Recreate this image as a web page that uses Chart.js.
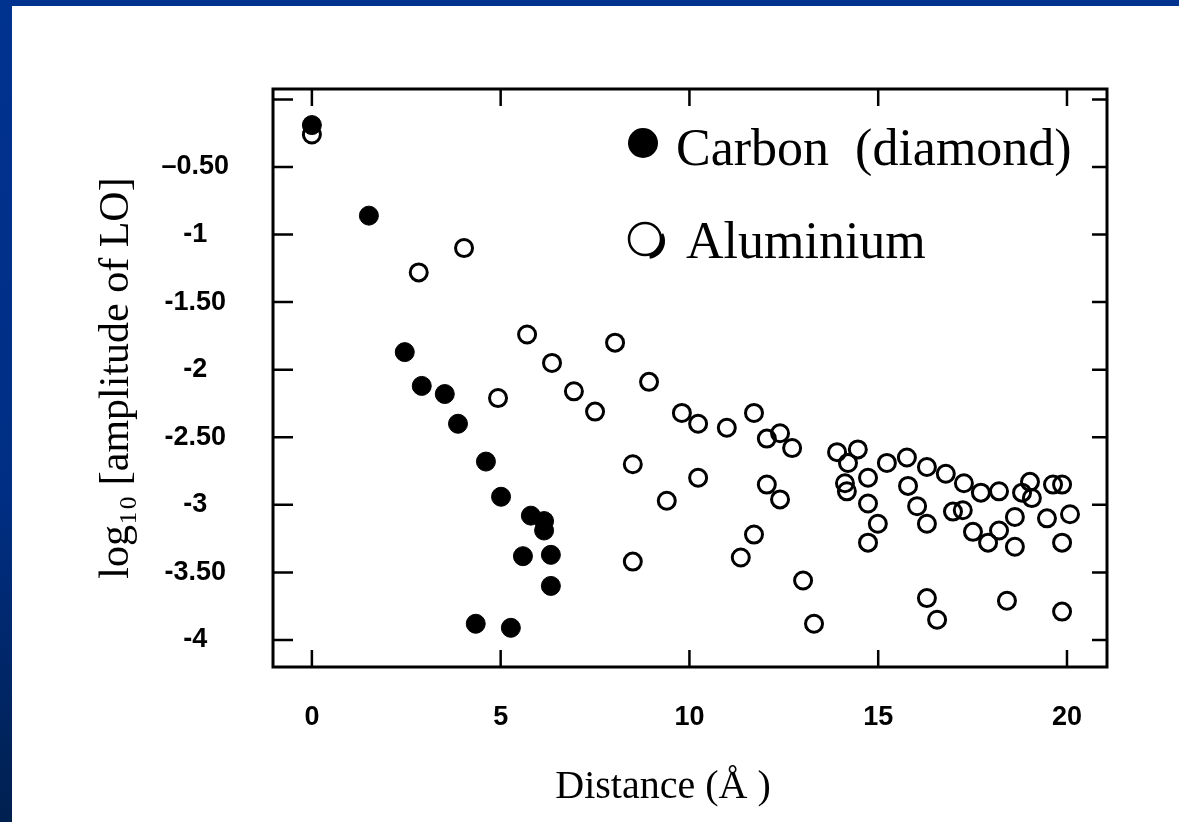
<!DOCTYPE html>
<html>
<head>
<meta charset="utf-8">
<script src="https://cdn.jsdelivr.net/npm/chart.js@4/dist/chart.umd.min.js"></script>
<style>
  html, body { margin: 0; padding: 0; }
  body {
    width: 1179px; height: 822px; overflow: hidden;
    background: linear-gradient(to bottom, #003290 0%, #002e84 60%, #00204f 100%);
  }
  #panel { position: absolute; left: 12px; top: 6px; width: 1167px; height: 816px; background: #fff; }
</style>
</head>
<body>
<div id="panel"><canvas id="lo" width="1167" height="816"></canvas></div>
<script>
// distance (Å) and log10 amplitude of the LO, per element
const carbonX = [0, 1.51, 2.46, 2.91, 3.52, 3.87, 4.61, 5.01, 5.80, 6.15, 6.15, 5.59, 6.33, 6.33, 4.34, 5.27];
const carbonY = [-0.19, -0.86, -1.87, -2.12, -2.18, -2.40, -2.68, -2.94, -3.08, -3.12, -3.19, -3.38, -3.37, -3.60, -3.88, -3.91];

const aluminiumX = [0, 2.83, 4.03, 5.70, 6.36, 4.93, 8.03, 8.93, 6.94, 7.50, 9.80, 10.23, 10.99, 11.71, 12.05, 12.40, 12.72,
  8.50, 10.23, 9.40, 12.05, 12.40, 11.71, 11.36, 8.50, 13.01, 13.30, 13.91, 14.46, 14.20, 14.12, 14.17, 14.73, 14.73,
  14.99, 14.73, 15.23, 15.76, 16.29, 16.79, 17.27, 17.72, 18.20, 18.81, 19.02, 19.07, 19.63, 19.87, 15.79, 16.03, 16.29,
  16.98, 17.24, 17.51, 17.91, 18.20, 18.62, 18.62, 19.47, 20.08, 19.87, 16.29, 16.56, 18.41, 19.87];
const aluminiumY = [-0.26, -1.28, -1.10, -1.74, -1.95, -2.21, -1.80, -2.09, -2.16, -2.31, -2.32, -2.40, -2.43, -2.32, -2.51, -2.47, -2.58,
  -2.70, -2.80, -2.97, -2.85, -2.96, -3.22, -3.39, -3.42, -3.56, -3.88, -2.61, -2.59, -2.69, -2.84, -2.90, -2.80, -2.99,
  -3.14, -3.28, -2.69, -2.65, -2.72, -2.77, -2.84, -2.91, -2.90, -2.91, -2.83, -2.95, -2.85, -2.85, -2.86, -3.01, -3.14,
  -3.05, -3.04, -3.20, -3.28, -3.19, -3.09, -3.31, -3.10, -3.07, -3.28, -3.69, -3.85, -3.71, -3.79];

const yTickValues = [0, -0.5, -1, -1.5, -2, -2.5, -3, -3.5, -4];
const yTickLabels = ['', '–0.50', '-1', '-1.50', '-2', '-2.50', '-3', '-3.50', '-4'];

const seriesNames = ['Carbon  (diamond)', 'Aluminium'];

const toPoints = (xs, ys) => xs.map((x, i) => ({ x: x, y: ys[i] }));

// box round the plot with inward tick marks, legend and x title
const framePlugin = {
  id: 'frame',
  afterDraw(chart) {
    const { ctx, chartArea: a, scales: { x, y } } = chart;
    ctx.save();
    ctx.strokeStyle = '#000';
    ctx.lineWidth = 3;
    ctx.strokeRect(a.left, a.top, a.right - a.left, a.bottom - a.top);

    ctx.beginPath();
    x.ticks.forEach(t => {
      const px = x.getPixelForValue(t.value);
      ctx.moveTo(px, a.bottom); ctx.lineTo(px, a.bottom - 17);
      ctx.moveTo(px, a.top); ctx.lineTo(px, a.top + 17);
    });
    y.ticks.forEach(t => {
      const py = y.getPixelForValue(t.value);
      ctx.moveTo(a.left, py); ctx.lineTo(a.left + 20, py);
      ctx.moveTo(a.right, py); ctx.lineTo(a.right - 15, py);
    });
    ctx.lineWidth = 2.5;
    ctx.stroke();

    // legend
    ctx.fillStyle = '#000';
    ctx.beginPath();
    ctx.arc(631, 137, 15, 0, Math.PI * 2);
    ctx.fill();

    ctx.lineWidth = 2.5;
    ctx.beginPath();
    ctx.arc(633, 233, 16, 0, Math.PI * 2);
    ctx.stroke();
    ctx.lineWidth = 4;
    ctx.beginPath();
    ctx.arc(635, 235, 16, -0.45, Math.PI * 0.45);
    ctx.stroke();

    ctx.font = '52px "Liberation Serif"';
    ctx.textBaseline = 'alphabetic';
    ctx.textAlign = 'left';
    ctx.fillText(seriesNames[0], 664, 159);
    ctx.fillText(seriesNames[1], 674, 252);

    // x axis title
    ctx.font = '40px "Liberation Serif"';
    ctx.textAlign = 'center';
    ctx.textBaseline = 'middle';
    ctx.fillText('Distance (Å )', (a.left + a.right) / 2 - 27, a.bottom + 120);
    ctx.restore();
  }
};

const tickFont = { family: '"Liberation Sans", Arial, sans-serif', weight: 'bold', size: 27 };

new Chart(document.getElementById('lo'), {
  type: 'scatter',
  data: {
    datasets: [
      {
        label: seriesNames[0],
        data: toPoints(carbonX, carbonY),
        pointRadius: 9.5,
        borderWidth: 1,
        backgroundColor: '#000',
        borderColor: '#000'
      },
      {
        label: seriesNames[1],
        data: toPoints(aluminiumX, aluminiumY),
        pointRadius: 8.5,
        borderWidth: 3,
        backgroundColor: 'rgba(255,255,255,0)',
        borderColor: '#000'
      }
    ]
  },
  options: {
    responsive: false,
    animation: false,
    devicePixelRatio: 1,
    layout: { padding: { left: 0, top: 83, right: 72, bottom: 0 } },
    plugins: { legend: { display: false }, tooltip: { enabled: false } },
    scales: {
      x: {
        type: 'linear',
        min: -1.03,
        max: 21.06,
        grid: { display: false, drawTicks: false },
        border: { display: false },
        ticks: { stepSize: 5, includeBounds: false, padding: 34, color: '#000', font: tickFont },
        afterFit: s => { s.height = 155; }
      },
      y: {
        min: -4.2,
        max: 0.077,
        grid: { display: false, drawTicks: false },
        border: { display: false },
        ticks: {
          stepSize: 0.5,
          includeBounds: false,
          crossAlign: 'center',
          padding: 44,
          color: '#000',
          font: tickFont,
          callback: v => {
            const i = yTickValues.findIndex(t => Math.abs(t - v) < 1e-6);
            return i < 0 ? '' : yTickLabels[i];
          }
        },
        title: {
          display: true,
          text: 'log₁₀ [amplitude of LO]',
          color: '#000',
          font: { family: '"Liberation Serif", serif', size: 42 },
          padding: { top: 80, bottom: 0 }
        },
        afterFit: s => { s.width = 261; }
      }
    }
  },
  plugins: [framePlugin]
});
</script>
</body>
</html>
